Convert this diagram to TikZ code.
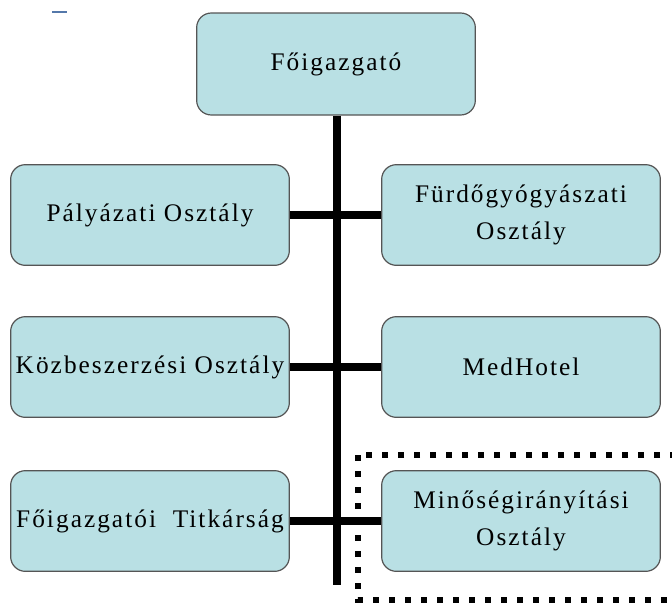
\documentclass[tikz,border=0pt]{standalone}
\usepackage{fontspec}
\setmainfont[LetterSpace=8]{Liberation Serif}
\usetikzlibrary{positioning}
\definecolor{boxfill}{RGB}{185,224,228}
\definecolor{boxline}{RGB}{85,85,85}
\definecolor{markblue}{RGB}{84,120,170}

\begin{document}
\begin{tikzpicture}[x=0.75pt,y=-0.75pt,
    unitbox/.style={draw=boxline, line width=0.9pt, fill=boxfill,
      rounded corners=11pt, minimum width=209pt, minimum height=75.5pt,
      align=center, inner sep=1pt, font=\fontsize{19}{27.5}\selectfont},
    trunk/.style={line width=5.6pt},
    branch/.style={line width=5.4pt},
    qframe/.style={line width=4.8pt, dash pattern=on 4.8pt off 7.2pt}]
    \useasboundingbox (0,0) rectangle (672,607);
    % Stray mark
    \draw[markblue, line width=1pt] (52,12) -- (67,12);
    % Director
    \node[unitbox, minimum height=76.5pt] (fo) at (336,64) {Főigazgató};
    % Left column
    \node[unitbox] (paly) at (150,215) {Pályázati Osztály};
    \node[unitbox] (kozb) at (150,367) {Közbeszerzési Osztály};
    \node[unitbox] (titk) at (150,521) {Főigazgatói\ \ Titkárság};
    % Right column
    \node[unitbox] (furdo) at (521,215) {Fürdőgyógyászati\\Osztály};
    \node[unitbox] (med) at (521,367) {MedHotel};
    \node[unitbox] (minos) at (521,521) {Minőségirányítási\\Osztály};
    % Trunk
    \coordinate (trunkend) at (337,585);
    \draw[trunk] (fo.south -| trunkend) -- (trunkend);
    % Branches
    \foreach \l/\r in {paly/furdo, kozb/med, titk/minos} {
        \draw[branch] (\l.east) -- (\r.west);
    }
    % Quality frame
    \draw[qframe] (358,455) rectangle (700,600);
\end{tikzpicture}
\end{document}
